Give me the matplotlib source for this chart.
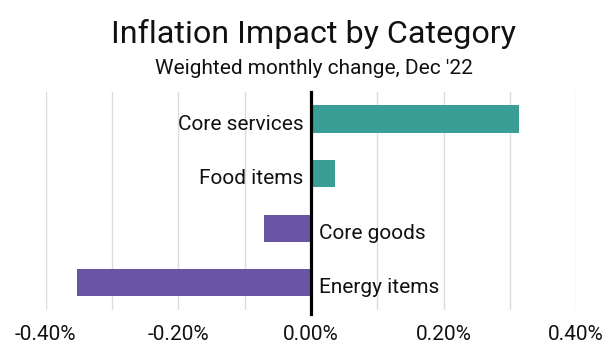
import numpy as np
import matplotlib.pyplot as plt
from matplotlib.ticker import FuncFormatter

plt.rcParams['font.family'] = ['Roboto', 'DejaVu Sans']

CATEGORIES = ['Core services', 'Food items', 'Core goods', 'Energy items']
VALUES = [0.314, 0.037, -0.070, -0.352]
TICKS = [-0.4, -0.2, 0.0, 0.2, 0.4]

TEAL = '#3a9d96'
PURPLE = '#6a55a4'

fig = plt.figure(figsize=(6.11, 3.63), dpi=100)
ax = fig.add_axes([0.0745, 0.146, 0.8685, 0.601])

ypos = np.arange(len(CATEGORIES))[::-1]
colors = [TEAL if v >= 0 else PURPLE for v in VALUES]
ax.barh(ypos, VALUES, height=0.5, color=colors, zorder=2)

# category labels sit on the opposite side of the zero line
for y, v, name in zip(ypos, VALUES, CATEGORIES):
    if v >= 0:
        ax.text(-0.011, y - 0.09, name, ha='right', va='center', fontsize=15, color='#111111')
    else:
        ax.text(0.012, y - 0.09, name, ha='left', va='center', fontsize=15, color='#111111')

ax.axvline(0, color='black', lw=2.3, zorder=3, ymin=-0.02, clip_on=False)

ax.set_xlim(-0.4, 0.4)
ax.set_ylim(-0.5, 3.5)
ax.set_xticks(np.arange(-0.4, 0.41, 0.1), minor=True)
ax.set_xticks(TICKS)
ax.xaxis.set_major_formatter(FuncFormatter(lambda x, p: f'{x:.2f}%'))
ax.grid(axis='x', which='both', color='#dcdcdc', lw=1, zorder=0)
ax.tick_params(axis='x', which='both', length=0, labelsize=15, pad=11, colors='#111111')
ax.set_yticks([])
for s in ax.spines.values():
    s.set_visible(False)

fig.text(0.513, 0.905, 'Inflation Impact by Category', ha='center', va='center', fontsize=23.2, color='#111111')
fig.text(0.513, 0.812, "Weighted monthly change, Dec '22", ha='center', va='center', fontsize=15, color='#111111')

fig.savefig('out.png', dpi=100)
